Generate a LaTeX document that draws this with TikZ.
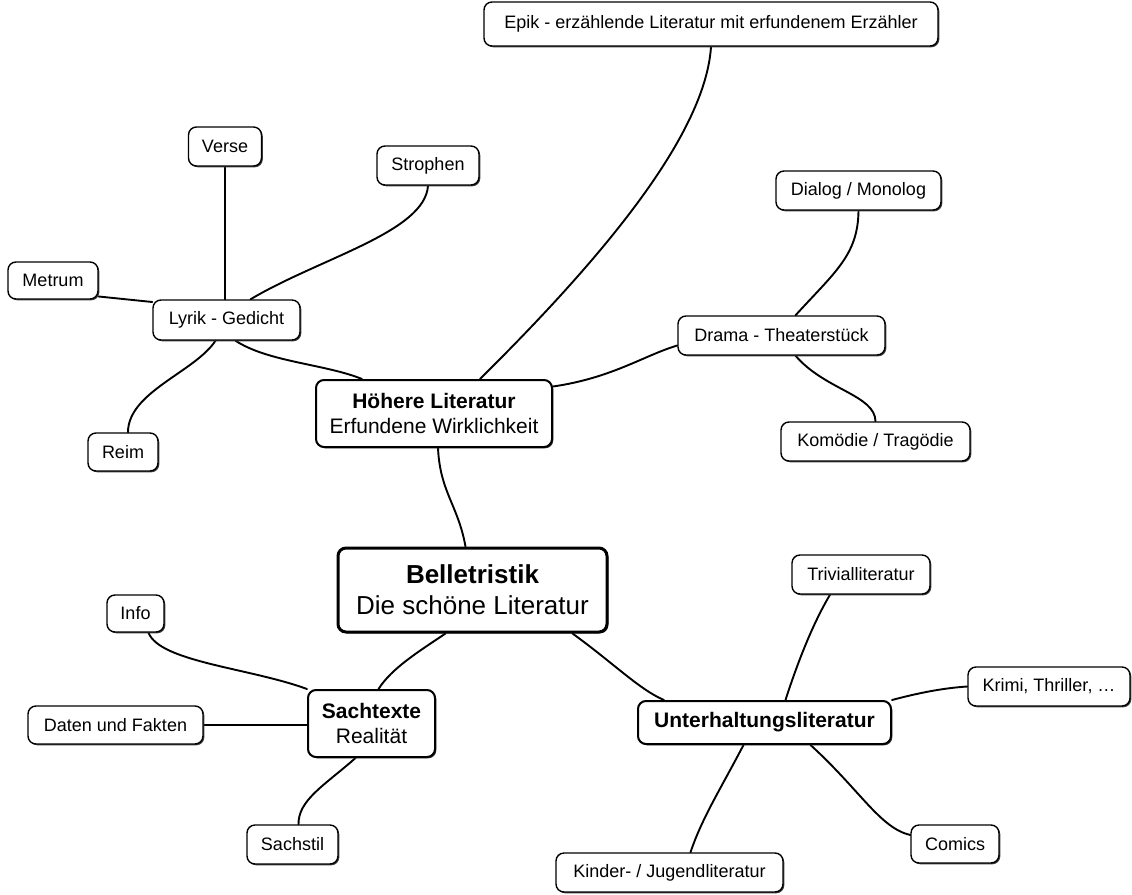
\documentclass[tikz,border=0pt]{standalone}
\usepackage{fontspec}
\setmainfont{Liberation Sans}
\usetikzlibrary{calc,shadows,backgrounds}
\begin{document}
\begin{tikzpicture}[x=1pt,y=-1pt,
  box/.style={draw=black, line width=1.4pt, rounded corners=8pt, fill=white,
    drop shadow={shadow xshift=1.3pt, shadow yshift=-1.3pt, opacity=1, fill=black!75},
    font=\fontsize{18}{21}\selectfont, inner sep=0pt, align=center, minimum height=39pt},
  mid/.style={box, font=\fontsize{21}{25}\selectfont, line width=2pt},
  big/.style={box, font=\fontsize{26}{31}\selectfont, line width=3pt},
  conn/.style={line width=1.9pt, line cap=round}]
\useasboundingbox (0,0) rectangle (1132,894);
\node[box, minimum width=454pt, minimum height=44pt] (epik) at (711,24) {Epik - erzählende Literatur mit erfundenem Erzähler};
\node[box, minimum width=73pt] (verse) at (225,146.5) {Verse};
\node[box, minimum width=102pt] (strophen) at (428,165.5) {Strophen};
\node[box, minimum width=165pt] (dialog) at (858.5,190.5) {Dialog / Monolog};
\node[box, minimum width=90pt, minimum height=37pt] (metrum) at (53,280.5) {Metrum};
\node[box, minimum width=147pt, minimum height=40pt] (lyrik) at (226.5,320) {Lyrik - Gedicht};
\node[box, minimum width=207pt] (drama) at (781.5,335.5) {Drama - Theaterstück};
\node[mid, minimum width=236pt, minimum height=67pt] (hoe) at (434,413.5) {\textbf{Höhere Literatur}\\Erfundene Wirklichkeit};
\node[box, minimum width=70pt, minimum height=38pt] (reim) at (123,452) {Reim};
\node[box, minimum width=189pt] (kom) at (875.5,441.5) {Komödie / Tragödie};
\node[big, minimum width=269pt, minimum height=84pt] (bell) at (472.5,590) {\textbf{Belletristik}\\Die schöne Literatur};
\node[box, minimum width=138pt] (triv) at (861,574.5) {Trivialliteratur};
\node[box, minimum width=57pt, minimum height=37pt] (info) at (135.5,613.5) {Info};
\node[box, minimum width=162pt] (krimi) at (1049,686.5) {Krimi, Thriller, \dots};
\node[mid, minimum width=127pt, minimum height=67pt] (sach) at (371.5,723.5) {\textbf{Sachtexte}\\Realität};
\node[box, minimum width=175pt, minimum height=38pt] (daten) at (115.5,725) {Daten und Fakten};
\node[mid, minimum width=253pt, minimum height=43pt] (unter) at (764.5,722.5) {\textbf{Unterhaltungsliteratur}};
\node[box, minimum width=88pt, minimum height=38pt] (comics) at (955,844) {Comics};
\node[box, minimum width=91pt] (sachstil) at (292.5,844.5) {Sachstil};
\node[box, minimum width=227pt] (kinder) at (669.5,872.5) {Kinder- / Jugendliteratur};
\begin{scope}[on background layer]
\draw[conn] ($(hoe.north)+(46,0)$) .. controls (590,270) and (705,140) .. (epik.south);
\draw[conn] (verse.south) -- (verse.south |- lyrik.north);
\draw[conn] ($(lyrik.north)+(24,0)$) .. controls (320,258) and (425,232) .. (strophen.south);
\draw[conn] ($(metrum.east)+(0,16)$) -- ($(lyrik.west)+(0,-18)$);
\draw[conn] ($(lyrik.south)+(-11,0)$) .. controls (195,372) and (128,392) .. ($(reim.north)+(5,0)$);
\draw[conn] ($(lyrik.south)+(9,0)$) .. controls (268,362) and (325,364) .. ($(hoe.north)+(-72,0)$);
\draw[conn] ($(hoe.east)+(0,-27)$) .. controls (612,378) and (645,355) .. ($(drama.west)+(0,10)$);
\draw[conn] ($(drama.north)+(14,0)$) .. controls (835,272) and (858,255) .. (dialog.south);
\draw[conn] ($(drama.south)+(14,0)$) .. controls (825,390) and (875,395) .. (kom.north);
\draw[conn] ($(hoe.south)+(4,0)$) .. controls (440,492) and (458,505) .. ($(bell.north)+(-7,0)$);
\draw[conn] ($(bell.south)+(-27,0)$) .. controls (418,652) and (392,668) .. ($(sach.north)+(7,0)$);
\draw[conn] (sach.north west) .. controls (250,668) and (160,662) .. ($(info.south)+(13,0)$);
\draw[conn] (daten.east) -- (daten.east -| sach.west);
\draw[conn] ($(sach.south)+(-16,0)$) .. controls (325,785) and (298,800) .. ($(sachstil.north)+(6,0)$);
\draw[conn] ($(bell.south)+(100,0)$) .. controls (612,662) and (640,690) .. ($(unter.north west)+(27,0)$);
\draw[conn] ($(unter.north)+(21,0)$) .. controls (800,655) and (815,620) .. ($(triv.south)+(-31,0)$);
\draw[conn] (unter.north east) .. controls (922,692) and (945,688) .. (krimi.west);
\draw[conn] ($(unter.south)+(46,0)$) .. controls (860,790) and (880,828) .. ($(comics.west)+(0,-9)$);
\draw[conn] ($(unter.south)+(-21,0)$) .. controls (720,790) and (702,818) .. ($(kinder.north)+(21,0)$);
\end{scope}
\end{tikzpicture}
\end{document}
